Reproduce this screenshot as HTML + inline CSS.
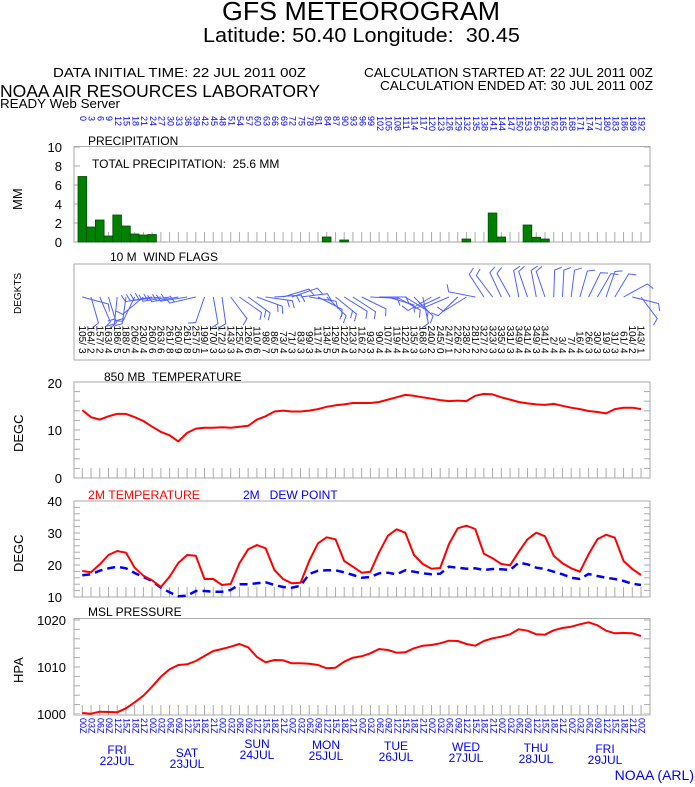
<!DOCTYPE html>
<html><head><meta charset="utf-8"><style>
html,body{margin:0;padding:0;background:#fff}
svg{display:block;font-family:"Liberation Sans",sans-serif}
svg text{white-space:pre}
</style></head><body>
<svg width="695" height="787" viewBox="0 0 695 787" xmlns="http://www.w3.org/2000/svg" xml:space="preserve">
<defs>
<pattern id="vt" patternUnits="userSpaceOnUse" x="81.8" y="0" width="8.73" height="10"><rect x="0" y="0" width="1" height="10" fill="#aaa"/></pattern>
<pattern id="hp" patternUnits="userSpaceOnUse" x="0" y="146.5" width="10" height="19"><rect x="0" y="0" width="10" height="1" fill="#aaa"/></pattern>
<pattern id="h8" patternUnits="userSpaceOnUse" x="0" y="381.5" width="10" height="9.6"><rect x="0" y="0" width="10" height="1" fill="#aaa"/></pattern>
<pattern id="h2" patternUnits="userSpaceOnUse" x="0" y="500.5" width="10" height="6.4"><rect x="0" y="0" width="10" height="1" fill="#aaa"/></pattern>
<pattern id="hm" patternUnits="userSpaceOnUse" x="0" y="619.5" width="10" height="9.4"><rect x="0" y="0" width="10" height="1" fill="#aaa"/></pattern>
<g id="b1"><path d="M0,0 L0,-27 L7,-30" fill="none" stroke="#5060ff" stroke-width="1"/></g>
<g id="b2"><path d="M0,0 L0,-27 L7,-30 M0,-22 L7,-25" fill="none" stroke="#5060ff" stroke-width="1"/></g>
</defs>
<rect width="695" height="787" fill="#fff"/>

<!-- Titles -->
<text x="222" y="20" font-size="26" textLength="278" lengthAdjust="spacingAndGlyphs">GFS METEOROGRAM</text>
<text x="203" y="42" font-size="20" textLength="317" lengthAdjust="spacingAndGlyphs">Latitude: 50.40 Longitude:  30.45</text>
<text x="53" y="77" font-size="13" textLength="253" lengthAdjust="spacingAndGlyphs">DATA INITIAL TIME: 22 JUL 2011 00Z</text>
<text x="364" y="77" font-size="13" textLength="289" lengthAdjust="spacingAndGlyphs">CALCULATION STARTED AT: 22 JUL 2011 00Z</text>
<text x="380" y="90" font-size="13" textLength="273" lengthAdjust="spacingAndGlyphs">CALCULATION ENDED AT: 30 JUL 2011 00Z</text>
<text x="0" y="97" font-size="17.5" textLength="320" lengthAdjust="spacingAndGlyphs">NOAA AIR RESOURCES LABORATORY</text>
<text x="0" y="108" font-size="13" textLength="120" lengthAdjust="spacingAndGlyphs">READY Web Server</text>

<!-- Panel boxes -->
<g fill="none" stroke="#aaa" stroke-width="1">
<rect x="74" y="146.5" width="576" height="95.5"/>
<rect x="74" y="264" width="576" height="96"/>
<rect x="74" y="382" width="576" height="96"/>
<rect x="74" y="501" width="576" height="96"/>
<rect x="74" y="618.5" width="576" height="96.5"/>
</g>
<!-- ticks -->
<rect x="76" y="232" width="572" height="10" fill="url(#vt)"/>
<rect x="76" y="468" width="572" height="10" fill="url(#vt)"/>
<rect x="76" y="587" width="572" height="10" fill="url(#vt)"/>
<rect x="76" y="705" width="572" height="10" fill="url(#vt)"/>
<rect x="74" y="146" width="6" height="90" fill="url(#hp)"/><rect x="644" y="146" width="6" height="90" fill="url(#hp)"/>
<rect x="74" y="381" width="6" height="96" fill="url(#h8)"/><rect x="644" y="381" width="6" height="96" fill="url(#h8)"/>
<rect x="74" y="500" width="6" height="96" fill="url(#h2)"/><rect x="644" y="500" width="6" height="96" fill="url(#h2)"/>
<rect x="74" y="619" width="6" height="95" fill="url(#hm)"/><rect x="644" y="619" width="6" height="95" fill="url(#hm)"/>

<!-- Axis labels -->
<g font-size="13" text-anchor="end">
<text x="62" y="152">10</text><text x="62" y="171">8</text><text x="62" y="190">6</text><text x="62" y="209">4</text><text x="62" y="228">2</text><text x="62" y="247">0</text>
<text x="62" y="388">20</text><text x="62" y="435">10</text><text x="62" y="483">0</text>
<text x="62" y="506">40</text><text x="62" y="538">30</text><text x="62" y="570">20</text><text x="62" y="602">10</text>
<text x="66" y="625">1020</text><text x="66" y="672">1010</text><text x="66" y="719">1000</text>
</g>
<g font-size="13">
<text transform="translate(22,210) rotate(-90)">MM</text>
<text transform="translate(21,314) rotate(-90)" font-size="10">DEGKTS</text>
<text transform="translate(23,452) rotate(-90)">DEGC</text>
<text transform="translate(23,572) rotate(-90)">DEGC</text>
<text transform="translate(23,683) rotate(-90)">HPA</text>
</g>

<!-- panel titles -->
<g font-size="12">
<text x="88" y="145">PRECIPITATION</text>
<text x="92" y="168">TOTAL PRECIPITATION:  25.6 MM</text>
<text x="110" y="261">10 M  WIND FLAGS</text>
<text x="104" y="381">850 MB  TEMPERATURE</text>
<text x="88" y="499" fill="#f00" textLength="112" lengthAdjust="spacingAndGlyphs">2M TEMPERATURE</text>
<text x="243" y="499" fill="#00f">2M   DEW POINT</text>
<text x="88" y="616">MSL PRESSURE</text>
</g>

<!-- Precip bars -->
<g fill="#008000" stroke="#005000" stroke-width="0.8">
<rect x="78" y="176.5" width="8.7" height="65.5"/>
<rect x="86.7" y="227" width="8.7" height="15"/>
<rect x="95.4" y="220" width="8.7" height="22"/>
<rect x="104.1" y="236" width="8.7" height="6"/>
<rect x="112.8" y="215" width="8.7" height="27"/>
<rect x="121.6" y="226" width="8.7" height="16"/>
<rect x="130.3" y="234" width="8.7" height="8"/>
<rect x="139" y="235" width="8.7" height="7"/>
<rect x="147.7" y="234.5" width="8.7" height="7.5"/>
<rect x="322.3" y="237" width="8.7" height="5"/>
<rect x="339.8" y="240" width="8.7" height="2"/>
<rect x="462" y="239" width="8.7" height="3"/>
<rect x="488.2" y="213" width="8.7" height="29"/>
<rect x="496.9" y="237" width="8.7" height="5"/>
<rect x="523.1" y="225" width="8.7" height="17"/>
<rect x="531.9" y="237.3" width="8.7" height="4.7"/>
<rect x="540.6" y="239" width="8.7" height="3"/>
</g>

<!-- Top hour labels -->
<g font-size="9" fill="#00f">
<text transform="translate(80,116) rotate(90)">0</text><text transform="translate(88.7,116) rotate(90)">3</text><text transform="translate(97.5,116) rotate(90)">6</text><text transform="translate(106.2,116) rotate(90)">9</text><text transform="translate(114.9,116) rotate(90)">12</text><text transform="translate(123.7,116) rotate(90)">15</text><text transform="translate(132.4,116) rotate(90)">18</text><text transform="translate(141.1,116) rotate(90)">21</text><text transform="translate(149.8,116) rotate(90)">24</text><text transform="translate(158.6,116) rotate(90)">27</text><text transform="translate(167.3,116) rotate(90)">30</text><text transform="translate(176,116) rotate(90)">33</text><text transform="translate(184.8,116) rotate(90)">36</text><text transform="translate(193.5,116) rotate(90)">39</text><text transform="translate(202.2,116) rotate(90)">42</text><text transform="translate(211,116) rotate(90)">45</text><text transform="translate(219.7,116) rotate(90)">48</text><text transform="translate(228.4,116) rotate(90)">51</text><text transform="translate(237.1,116) rotate(90)">54</text><text transform="translate(245.9,116) rotate(90)">57</text><text transform="translate(254.6,116) rotate(90)">60</text><text transform="translate(263.3,116) rotate(90)">63</text><text transform="translate(272.1,116) rotate(90)">66</text><text transform="translate(280.8,116) rotate(90)">69</text><text transform="translate(289.5,116) rotate(90)">72</text><text transform="translate(298.3,116) rotate(90)">75</text><text transform="translate(307,116) rotate(90)">78</text><text transform="translate(315.7,116) rotate(90)">81</text><text transform="translate(324.4,116) rotate(90)">84</text><text transform="translate(333.2,116) rotate(90)">87</text><text transform="translate(341.9,116) rotate(90)">90</text><text transform="translate(350.6,116) rotate(90)">93</text><text transform="translate(359.4,116) rotate(90)">96</text><text transform="translate(368.1,116) rotate(90)">99</text><text transform="translate(376.8,116) rotate(90)">102</text><text transform="translate(385.6,116) rotate(90)">105</text><text transform="translate(394.3,116) rotate(90)">108</text><text transform="translate(403,116) rotate(90)">111</text><text transform="translate(411.7,116) rotate(90)">114</text><text transform="translate(420.5,116) rotate(90)">117</text><text transform="translate(429.2,116) rotate(90)">120</text><text transform="translate(437.9,116) rotate(90)">123</text><text transform="translate(446.7,116) rotate(90)">126</text><text transform="translate(455.4,116) rotate(90)">129</text><text transform="translate(464.1,116) rotate(90)">132</text><text transform="translate(472.9,116) rotate(90)">135</text><text transform="translate(481.6,116) rotate(90)">138</text><text transform="translate(490.3,116) rotate(90)">141</text><text transform="translate(499,116) rotate(90)">144</text><text transform="translate(507.8,116) rotate(90)">147</text><text transform="translate(516.5,116) rotate(90)">150</text><text transform="translate(525.2,116) rotate(90)">153</text><text transform="translate(534,116) rotate(90)">156</text><text transform="translate(542.7,116) rotate(90)">159</text><text transform="translate(551.4,116) rotate(90)">162</text><text transform="translate(560.2,116) rotate(90)">165</text><text transform="translate(568.9,116) rotate(90)">168</text><text transform="translate(577.6,116) rotate(90)">171</text><text transform="translate(586.3,116) rotate(90)">174</text><text transform="translate(595.1,116) rotate(90)">177</text><text transform="translate(603.8,116) rotate(90)">180</text><text transform="translate(612.5,116) rotate(90)">183</text><text transform="translate(621.3,116) rotate(90)">186</text><text transform="translate(630,116) rotate(90)">189</text><text transform="translate(638.7,116) rotate(90)">192</text>
</g>

<!-- Wind barbs -->
<g>
<use href="#b1" transform="translate(82.3,297) rotate(105)"/><use href="#b1" transform="translate(91,297) rotate(164)"/><use href="#b1" transform="translate(99.8,297) rotate(157)"/><use href="#b1" transform="translate(108.5,297) rotate(163)"/><use href="#b2" transform="translate(117.2,297) rotate(186)"/><use href="#b2" transform="translate(126,297) rotate(188)"/><use href="#b1" transform="translate(134.7,297) rotate(206)"/><use href="#b1" transform="translate(143.4,297) rotate(230)"/><use href="#b2" transform="translate(152.1,297) rotate(260)"/><use href="#b2" transform="translate(160.9,297) rotate(263)"/><use href="#b2" transform="translate(169.6,297) rotate(261)"/><use href="#b2" transform="translate(178.3,297) rotate(260)"/><use href="#b2" transform="translate(187.1,297) rotate(261)"/><use href="#b2" transform="translate(195.8,297) rotate(257)"/><use href="#b1" transform="translate(204.5,297) rotate(199)"/><use href="#b1" transform="translate(213.3,297) rotate(170)"/><use href="#b1" transform="translate(222,297) rotate(172)"/><use href="#b1" transform="translate(230.7,297) rotate(143)"/><use href="#b1" transform="translate(239.4,297) rotate(125)"/><use href="#b2" transform="translate(248.2,297) rotate(126)"/><use href="#b2" transform="translate(256.9,297) rotate(110)"/><use href="#b2" transform="translate(265.6,297) rotate(98)"/><use href="#b2" transform="translate(274.4,297) rotate(86)"/><use href="#b1" transform="translate(283.1,297) rotate(73)"/><use href="#b1" transform="translate(291.8,297) rotate(71)"/><use href="#b1" transform="translate(300.6,297) rotate(83)"/><use href="#b1" transform="translate(309.3,297) rotate(99)"/><use href="#b1" transform="translate(318,297) rotate(117)"/><use href="#b2" transform="translate(326.7,297) rotate(134)"/><use href="#b2" transform="translate(335.5,297) rotate(129)"/><use href="#b1" transform="translate(344.2,297) rotate(122)"/><use href="#b1" transform="translate(352.9,297) rotate(123)"/><use href="#b1" transform="translate(361.7,297) rotate(116)"/><use href="#b1" transform="translate(370.4,297) rotate(93)"/><use href="#b1" transform="translate(379.1,297) rotate(90)"/><use href="#b1" transform="translate(387.9,297) rotate(107)"/><use href="#b1" transform="translate(396.6,297) rotate(119)"/><use href="#b1" transform="translate(405.3,297) rotate(122)"/><use href="#b1" transform="translate(414,297) rotate(135)"/><use href="#b1" transform="translate(422.8,297) rotate(168)"/><use href="#b1" transform="translate(431.5,297) rotate(240)"/><use href="#b1" transform="translate(440.2,297) rotate(245)"/><use href="#b1" transform="translate(449,297) rotate(247)"/><use href="#b1" transform="translate(457.7,297) rotate(226)"/><use href="#b1" transform="translate(466.4,297) rotate(238)"/><use href="#b1" transform="translate(475.2,297) rotate(281)"/><use href="#b1" transform="translate(483.9,297) rotate(327)"/><use href="#b1" transform="translate(492.6,297) rotate(323)"/><use href="#b1" transform="translate(501.3,297) rotate(335)"/><use href="#b1" transform="translate(510.1,297) rotate(331)"/><use href="#b1" transform="translate(518.8,297) rotate(349)"/><use href="#b1" transform="translate(527.5,297) rotate(341)"/><use href="#b1" transform="translate(536.3,297) rotate(349)"/><use href="#b1" transform="translate(545,297) rotate(341)"/><use href="#b1" transform="translate(553.7,297) rotate(2)"/><use href="#b1" transform="translate(562.5,297) rotate(3)"/><use href="#b1" transform="translate(571.2,297) rotate(7)"/><use href="#b1" transform="translate(579.9,297) rotate(16)"/><use href="#b1" transform="translate(588.6,297) rotate(26)"/><use href="#b1" transform="translate(597.4,297) rotate(30)"/><use href="#b1" transform="translate(606.1,297) rotate(19)"/><use href="#b1" transform="translate(614.8,297) rotate(31)"/><use href="#b1" transform="translate(623.6,297) rotate(61)"/><use href="#b1" transform="translate(632.3,297) rotate(104)"/><use href="#b1" transform="translate(641,297) rotate(143)"/>
</g>

<!-- Wind labels -->
<g font-size="10" fill="#000">
<g text-anchor="end">
<text transform="translate(79,345) rotate(90)">105/</text><text transform="translate(87.7,345) rotate(90)">164/</text><text transform="translate(96.5,345) rotate(90)">157/</text><text transform="translate(105.2,345) rotate(90)">163/</text><text transform="translate(113.9,345) rotate(90)">186/</text><text transform="translate(122.7,345) rotate(90)">188/</text><text transform="translate(131.4,345) rotate(90)">206/</text><text transform="translate(140.1,345) rotate(90)">230/</text><text transform="translate(148.8,345) rotate(90)">260/</text><text transform="translate(157.6,345) rotate(90)">263/</text><text transform="translate(166.3,345) rotate(90)">261/</text><text transform="translate(175,345) rotate(90)">260/</text><text transform="translate(183.8,345) rotate(90)">261/</text><text transform="translate(192.5,345) rotate(90)">257/</text><text transform="translate(201.2,345) rotate(90)">199/</text><text transform="translate(210,345) rotate(90)">170/</text><text transform="translate(218.7,345) rotate(90)">172/</text><text transform="translate(227.4,345) rotate(90)">143/</text><text transform="translate(236.1,345) rotate(90)">125/</text><text transform="translate(244.9,345) rotate(90)">126/</text><text transform="translate(253.6,345) rotate(90)">110/</text><text transform="translate(262.3,345) rotate(90)">98/</text><text transform="translate(271.1,345) rotate(90)">86/</text><text transform="translate(279.8,345) rotate(90)">73/</text><text transform="translate(288.5,345) rotate(90)">71/</text><text transform="translate(297.3,345) rotate(90)">83/</text><text transform="translate(306,345) rotate(90)">99/</text><text transform="translate(314.7,345) rotate(90)">117/</text><text transform="translate(323.4,345) rotate(90)">134/</text><text transform="translate(332.2,345) rotate(90)">129/</text><text transform="translate(340.9,345) rotate(90)">122/</text><text transform="translate(349.6,345) rotate(90)">123/</text><text transform="translate(358.4,345) rotate(90)">116/</text><text transform="translate(367.1,345) rotate(90)">93/</text><text transform="translate(375.8,345) rotate(90)">90/</text><text transform="translate(384.6,345) rotate(90)">107/</text><text transform="translate(393.3,345) rotate(90)">119/</text><text transform="translate(402,345) rotate(90)">122/</text><text transform="translate(410.7,345) rotate(90)">135/</text><text transform="translate(419.5,345) rotate(90)">168/</text><text transform="translate(428.2,345) rotate(90)">240/</text><text transform="translate(436.9,345) rotate(90)">245/</text><text transform="translate(445.7,345) rotate(90)">247/</text><text transform="translate(454.4,345) rotate(90)">226/</text><text transform="translate(463.1,345) rotate(90)">238/</text><text transform="translate(471.9,345) rotate(90)">281/</text><text transform="translate(480.6,345) rotate(90)">327/</text><text transform="translate(489.3,345) rotate(90)">323/</text><text transform="translate(498,345) rotate(90)">335/</text><text transform="translate(506.8,345) rotate(90)">331/</text><text transform="translate(515.5,345) rotate(90)">349/</text><text transform="translate(524.2,345) rotate(90)">341/</text><text transform="translate(533,345) rotate(90)">349/</text><text transform="translate(541.7,345) rotate(90)">341/</text><text transform="translate(550.4,345) rotate(90)">2/</text><text transform="translate(559.2,345) rotate(90)">3/</text><text transform="translate(567.9,345) rotate(90)">7/</text><text transform="translate(576.6,345) rotate(90)">16/</text><text transform="translate(585.3,345) rotate(90)">26/</text><text transform="translate(594.1,345) rotate(90)">30/</text><text transform="translate(602.8,345) rotate(90)">19/</text><text transform="translate(611.5,345) rotate(90)">31/</text><text transform="translate(620.3,345) rotate(90)">61/</text><text transform="translate(629,345) rotate(90)">104/</text><text transform="translate(637.7,345) rotate(90)">143/</text>
</g>
<g>
<text transform="translate(79,348) rotate(90)">3</text><text transform="translate(87.7,348) rotate(90)">2</text><text transform="translate(96.5,348) rotate(90)">2</text><text transform="translate(105.2,348) rotate(90)">4</text><text transform="translate(113.9,348) rotate(90)">5</text><text transform="translate(122.7,348) rotate(90)">5</text><text transform="translate(131.4,348) rotate(90)">4</text><text transform="translate(140.1,348) rotate(90)">4</text><text transform="translate(148.8,348) rotate(90)">6</text><text transform="translate(157.6,348) rotate(90)">6</text><text transform="translate(166.3,348) rotate(90)">8</text><text transform="translate(175,348) rotate(90)">9</text><text transform="translate(183.8,348) rotate(90)">8</text><text transform="translate(192.5,348) rotate(90)">5</text><text transform="translate(201.2,348) rotate(90)">1</text><text transform="translate(210,348) rotate(90)">3</text><text transform="translate(218.7,348) rotate(90)">3</text><text transform="translate(227.4,348) rotate(90)">3</text><text transform="translate(236.1,348) rotate(90)">4</text><text transform="translate(244.9,348) rotate(90)">6</text><text transform="translate(253.6,348) rotate(90)">6</text><text transform="translate(262.3,348) rotate(90)">7</text><text transform="translate(271.1,348) rotate(90)">5</text><text transform="translate(279.8,348) rotate(90)">4</text><text transform="translate(288.5,348) rotate(90)">3</text><text transform="translate(297.3,348) rotate(90)">3</text><text transform="translate(306,348) rotate(90)">3</text><text transform="translate(314.7,348) rotate(90)">4</text><text transform="translate(323.4,348) rotate(90)">5</text><text transform="translate(332.2,348) rotate(90)">5</text><text transform="translate(340.9,348) rotate(90)">4</text><text transform="translate(349.6,348) rotate(90)">3</text><text transform="translate(358.4,348) rotate(90)">2</text><text transform="translate(367.1,348) rotate(90)">3</text><text transform="translate(375.8,348) rotate(90)">4</text><text transform="translate(384.6,348) rotate(90)">4</text><text transform="translate(393.3,348) rotate(90)">4</text><text transform="translate(402,348) rotate(90)">4</text><text transform="translate(410.7,348) rotate(90)">3</text><text transform="translate(419.5,348) rotate(90)">3</text><text transform="translate(428.2,348) rotate(90)">2</text><text transform="translate(436.9,348) rotate(90)">0</text><text transform="translate(445.7,348) rotate(90)">1</text><text transform="translate(454.4,348) rotate(90)">2</text><text transform="translate(463.1,348) rotate(90)">2</text><text transform="translate(471.9,348) rotate(90)">2</text><text transform="translate(480.6,348) rotate(90)">2</text><text transform="translate(489.3,348) rotate(90)">3</text><text transform="translate(498,348) rotate(90)">3</text><text transform="translate(506.8,348) rotate(90)">3</text><text transform="translate(515.5,348) rotate(90)">4</text><text transform="translate(524.2,348) rotate(90)">4</text><text transform="translate(533,348) rotate(90)">3</text><text transform="translate(541.7,348) rotate(90)">4</text><text transform="translate(550.4,348) rotate(90)">4</text><text transform="translate(559.2,348) rotate(90)">4</text><text transform="translate(567.9,348) rotate(90)">4</text><text transform="translate(576.6,348) rotate(90)">4</text><text transform="translate(585.3,348) rotate(90)">3</text><text transform="translate(594.1,348) rotate(90)">3</text><text transform="translate(602.8,348) rotate(90)">3</text><text transform="translate(611.5,348) rotate(90)">3</text><text transform="translate(620.3,348) rotate(90)">4</text><text transform="translate(629,348) rotate(90)">2</text><text transform="translate(637.7,348) rotate(90)">1</text>
</g>
</g>

<!-- 850 temperature -->
<polyline fill="none" stroke="#f00" stroke-width="2" stroke-linejoin="round" points="82.3,410.1 91,417.2 99.8,419.6 108.5,416.3 117.2,413.9 126,413.9 134.7,417.2 143.4,421 152.1,426.7 160.9,431.9 169.6,435.3 178.3,441.4 187.1,432.9 195.8,428.6 204.5,427.7 213.3,427.7 222,427.2 230.7,427.7 239.4,426.7 248.2,425.8 256.9,419.6 265.6,416.3 274.4,411.5 283.1,410.6 291.8,411.5 300.6,411.5 309.3,410.6 318,409.1 326.7,406.8 335.5,405.3 344.2,404.4 352.9,403 361.7,403 370.4,403 379.1,402 387.9,399.6 396.6,397.3 405.3,394.9 414,395.8 422.8,397.3 431.5,398.7 440.2,400.1 449,401.1 457.7,400.6 466.4,401.1 475.2,395.8 483.9,393.9 492.6,394.4 501.3,397.3 510.1,399.6 518.8,402 527.5,403.4 536.3,404.4 545,404.9 553.7,403.9 562.5,405.8 571.2,407.7 579.9,409.1 588.6,411 597.4,412 606.1,413.4 614.8,409.1 623.6,407.7 632.3,407.7 641,409.1"/>

<!-- 2m dew point -->
<polyline fill="none" stroke="#00f" stroke-width="2.5" stroke-dasharray="8,5" points="82.3,575.3 91,574.3 99.8,570.7 108.5,568.3 117.2,566.7 126,568.3 134.7,573 143.4,577 152.1,581 160.9,587.7 169.6,592.3 178.3,596.3 187.1,595.7 195.8,591 204.5,591 213.3,591.7 222,591.7 230.7,590 239.4,584.3 248.2,584.3 256.9,583.3 265.6,582.3 274.4,585 283.1,587 291.8,587.7 300.6,585.7 309.3,574 318,570.7 326.7,570.3 335.5,570.3 344.2,572.3 352.9,575 361.7,577.7 370.4,577 379.1,573.3 387.9,572.7 396.6,574.3 405.3,570.3 414,571.7 422.8,573.3 431.5,574.3 440.2,573.7 449,566.7 457.7,567.7 466.4,568.7 475.2,568.3 483.9,570 492.6,569 501.3,569.3 510.1,570 518.8,562.7 527.5,564.3 536.3,567.7 545,569 553.7,571.7 562.5,574.3 571.2,577.7 579.9,579 588.6,574 597.4,576 606.1,577.7 614.8,579 623.6,581 632.3,583.7 641,585"/>

<!-- 2m temperature -->
<polyline fill="none" stroke="#f00" stroke-width="2" stroke-linejoin="round" points="82.3,571 91,572.3 99.8,564.3 108.5,555 117.2,551 126,552.7 134.7,567.7 143.4,575.7 152.1,580.3 160.9,587 169.6,576.7 178.3,563 187.1,555 195.8,555.7 204.5,579 213.3,579 222,585 230.7,584 239.4,563.3 248.2,549.3 256.9,545 265.6,548.3 274.4,570 283.1,579 291.8,583.3 300.6,582.7 309.3,560.7 318,543.3 326.7,537.3 335.5,539.3 344.2,561 352.9,566.7 361.7,572.7 370.4,571.7 379.1,552.3 387.9,535.7 396.6,529.3 405.3,532.7 414,555 422.8,564 431.5,568.7 440.2,568 449,544 457.7,528.3 466.4,525.7 475.2,529 483.9,553.7 492.6,558.3 501.3,564 510.1,565.3 518.8,551.7 527.5,539.3 536.3,532.7 545,536.3 553.7,555.7 562.5,563.3 571.2,568.3 579.9,571.7 588.6,554.3 597.4,539.3 606.1,534.7 614.8,537.7 623.6,561 632.3,569 641,575"/>

<!-- MSL pressure -->
<polyline fill="none" stroke="#f00" stroke-width="2" stroke-linejoin="round" points="82.3,713 91,713.7 99.8,711.7 108.5,712 117.2,712.3 126,708.3 134.7,702.3 143.4,695.7 152.1,686.7 160.9,676.7 169.6,669.3 178.3,665 187.1,664.3 195.8,661 204.5,656 213.3,651 222,649 230.7,646.7 239.4,644 248.2,647.3 256.9,657 265.6,662.3 274.4,660 283.1,660.3 291.8,663.3 300.6,663.3 309.3,663.7 318,665 326.7,668.3 335.5,667.7 344.2,661.7 352.9,657.7 361.7,656.3 370.4,653.3 379.1,649 387.9,650 396.6,652.7 405.3,652.3 414,648.3 422.8,645.7 431.5,645 440.2,643.3 449,640.7 457.7,641 466.4,644 475.2,645.7 483.9,641 492.6,638.3 501.3,636.7 510.1,634.3 518.8,629.3 527.5,630.7 536.3,634.3 545,634.7 553.7,630.3 562.5,628 571.2,626.7 579.9,624.3 588.6,622.3 597.4,625.3 606.1,630.7 614.8,633.3 623.6,633 632.3,633.3 641,636"/>

<!-- Bottom time labels -->
<g font-size="9" fill="#00f">
<text transform="translate(80,718) rotate(90)">00Z</text><text transform="translate(88.7,718) rotate(90)">03Z</text><text transform="translate(97.5,718) rotate(90)">06Z</text><text transform="translate(106.2,718) rotate(90)">09Z</text><text transform="translate(114.9,718) rotate(90)">12Z</text><text transform="translate(123.7,718) rotate(90)">15Z</text><text transform="translate(132.4,718) rotate(90)">18Z</text><text transform="translate(141.1,718) rotate(90)">21Z</text><text transform="translate(149.8,718) rotate(90)">00Z</text><text transform="translate(158.6,718) rotate(90)">03Z</text><text transform="translate(167.3,718) rotate(90)">06Z</text><text transform="translate(176,718) rotate(90)">09Z</text><text transform="translate(184.8,718) rotate(90)">12Z</text><text transform="translate(193.5,718) rotate(90)">15Z</text><text transform="translate(202.2,718) rotate(90)">18Z</text><text transform="translate(211,718) rotate(90)">21Z</text><text transform="translate(219.7,718) rotate(90)">00Z</text><text transform="translate(228.4,718) rotate(90)">03Z</text><text transform="translate(237.1,718) rotate(90)">06Z</text><text transform="translate(245.9,718) rotate(90)">09Z</text><text transform="translate(254.6,718) rotate(90)">12Z</text><text transform="translate(263.3,718) rotate(90)">15Z</text><text transform="translate(272.1,718) rotate(90)">18Z</text><text transform="translate(280.8,718) rotate(90)">21Z</text><text transform="translate(289.5,718) rotate(90)">00Z</text><text transform="translate(298.3,718) rotate(90)">03Z</text><text transform="translate(307,718) rotate(90)">06Z</text><text transform="translate(315.7,718) rotate(90)">09Z</text><text transform="translate(324.4,718) rotate(90)">12Z</text><text transform="translate(333.2,718) rotate(90)">15Z</text><text transform="translate(341.9,718) rotate(90)">18Z</text><text transform="translate(350.6,718) rotate(90)">21Z</text><text transform="translate(359.4,718) rotate(90)">00Z</text><text transform="translate(368.1,718) rotate(90)">03Z</text><text transform="translate(376.8,718) rotate(90)">06Z</text><text transform="translate(385.6,718) rotate(90)">09Z</text><text transform="translate(394.3,718) rotate(90)">12Z</text><text transform="translate(403,718) rotate(90)">15Z</text><text transform="translate(411.7,718) rotate(90)">18Z</text><text transform="translate(420.5,718) rotate(90)">21Z</text><text transform="translate(429.2,718) rotate(90)">00Z</text><text transform="translate(437.9,718) rotate(90)">03Z</text><text transform="translate(446.7,718) rotate(90)">06Z</text><text transform="translate(455.4,718) rotate(90)">09Z</text><text transform="translate(464.1,718) rotate(90)">12Z</text><text transform="translate(472.9,718) rotate(90)">15Z</text><text transform="translate(481.6,718) rotate(90)">18Z</text><text transform="translate(490.3,718) rotate(90)">21Z</text><text transform="translate(499,718) rotate(90)">00Z</text><text transform="translate(507.8,718) rotate(90)">03Z</text><text transform="translate(516.5,718) rotate(90)">06Z</text><text transform="translate(525.2,718) rotate(90)">09Z</text><text transform="translate(534,718) rotate(90)">12Z</text><text transform="translate(542.7,718) rotate(90)">15Z</text><text transform="translate(551.4,718) rotate(90)">18Z</text><text transform="translate(560.2,718) rotate(90)">21Z</text><text transform="translate(568.9,718) rotate(90)">00Z</text><text transform="translate(577.6,718) rotate(90)">03Z</text><text transform="translate(586.3,718) rotate(90)">06Z</text><text transform="translate(595.1,718) rotate(90)">09Z</text><text transform="translate(603.8,718) rotate(90)">12Z</text><text transform="translate(612.5,718) rotate(90)">15Z</text><text transform="translate(621.3,718) rotate(90)">18Z</text><text transform="translate(630,718) rotate(90)">21Z</text><text transform="translate(638.7,718) rotate(90)">00Z</text>
</g>

<!-- Day labels -->
<g font-size="12" fill="#00f" text-anchor="middle">
<text x="117" y="754">FRI</text><text x="117" y="765">22JUL</text>
<text x="187" y="757">SAT</text><text x="187" y="768">23JUL</text>
<text x="257" y="748">SUN</text><text x="257" y="759">24JUL</text>
<text x="326" y="749">MON</text><text x="326" y="760">25JUL</text>
<text x="396" y="750">TUE</text><text x="396" y="761">26JUL</text>
<text x="466" y="751">WED</text><text x="466" y="762">27JUL</text>
<text x="536" y="752">THU</text><text x="536" y="763">28JUL</text>
<text x="605" y="753">FRI</text><text x="605" y="764">29JUL</text>
</g>
<text x="694" y="780" font-size="14" fill="#00f" text-anchor="end">NOAA (ARL)</text>
</svg>
</body></html>
